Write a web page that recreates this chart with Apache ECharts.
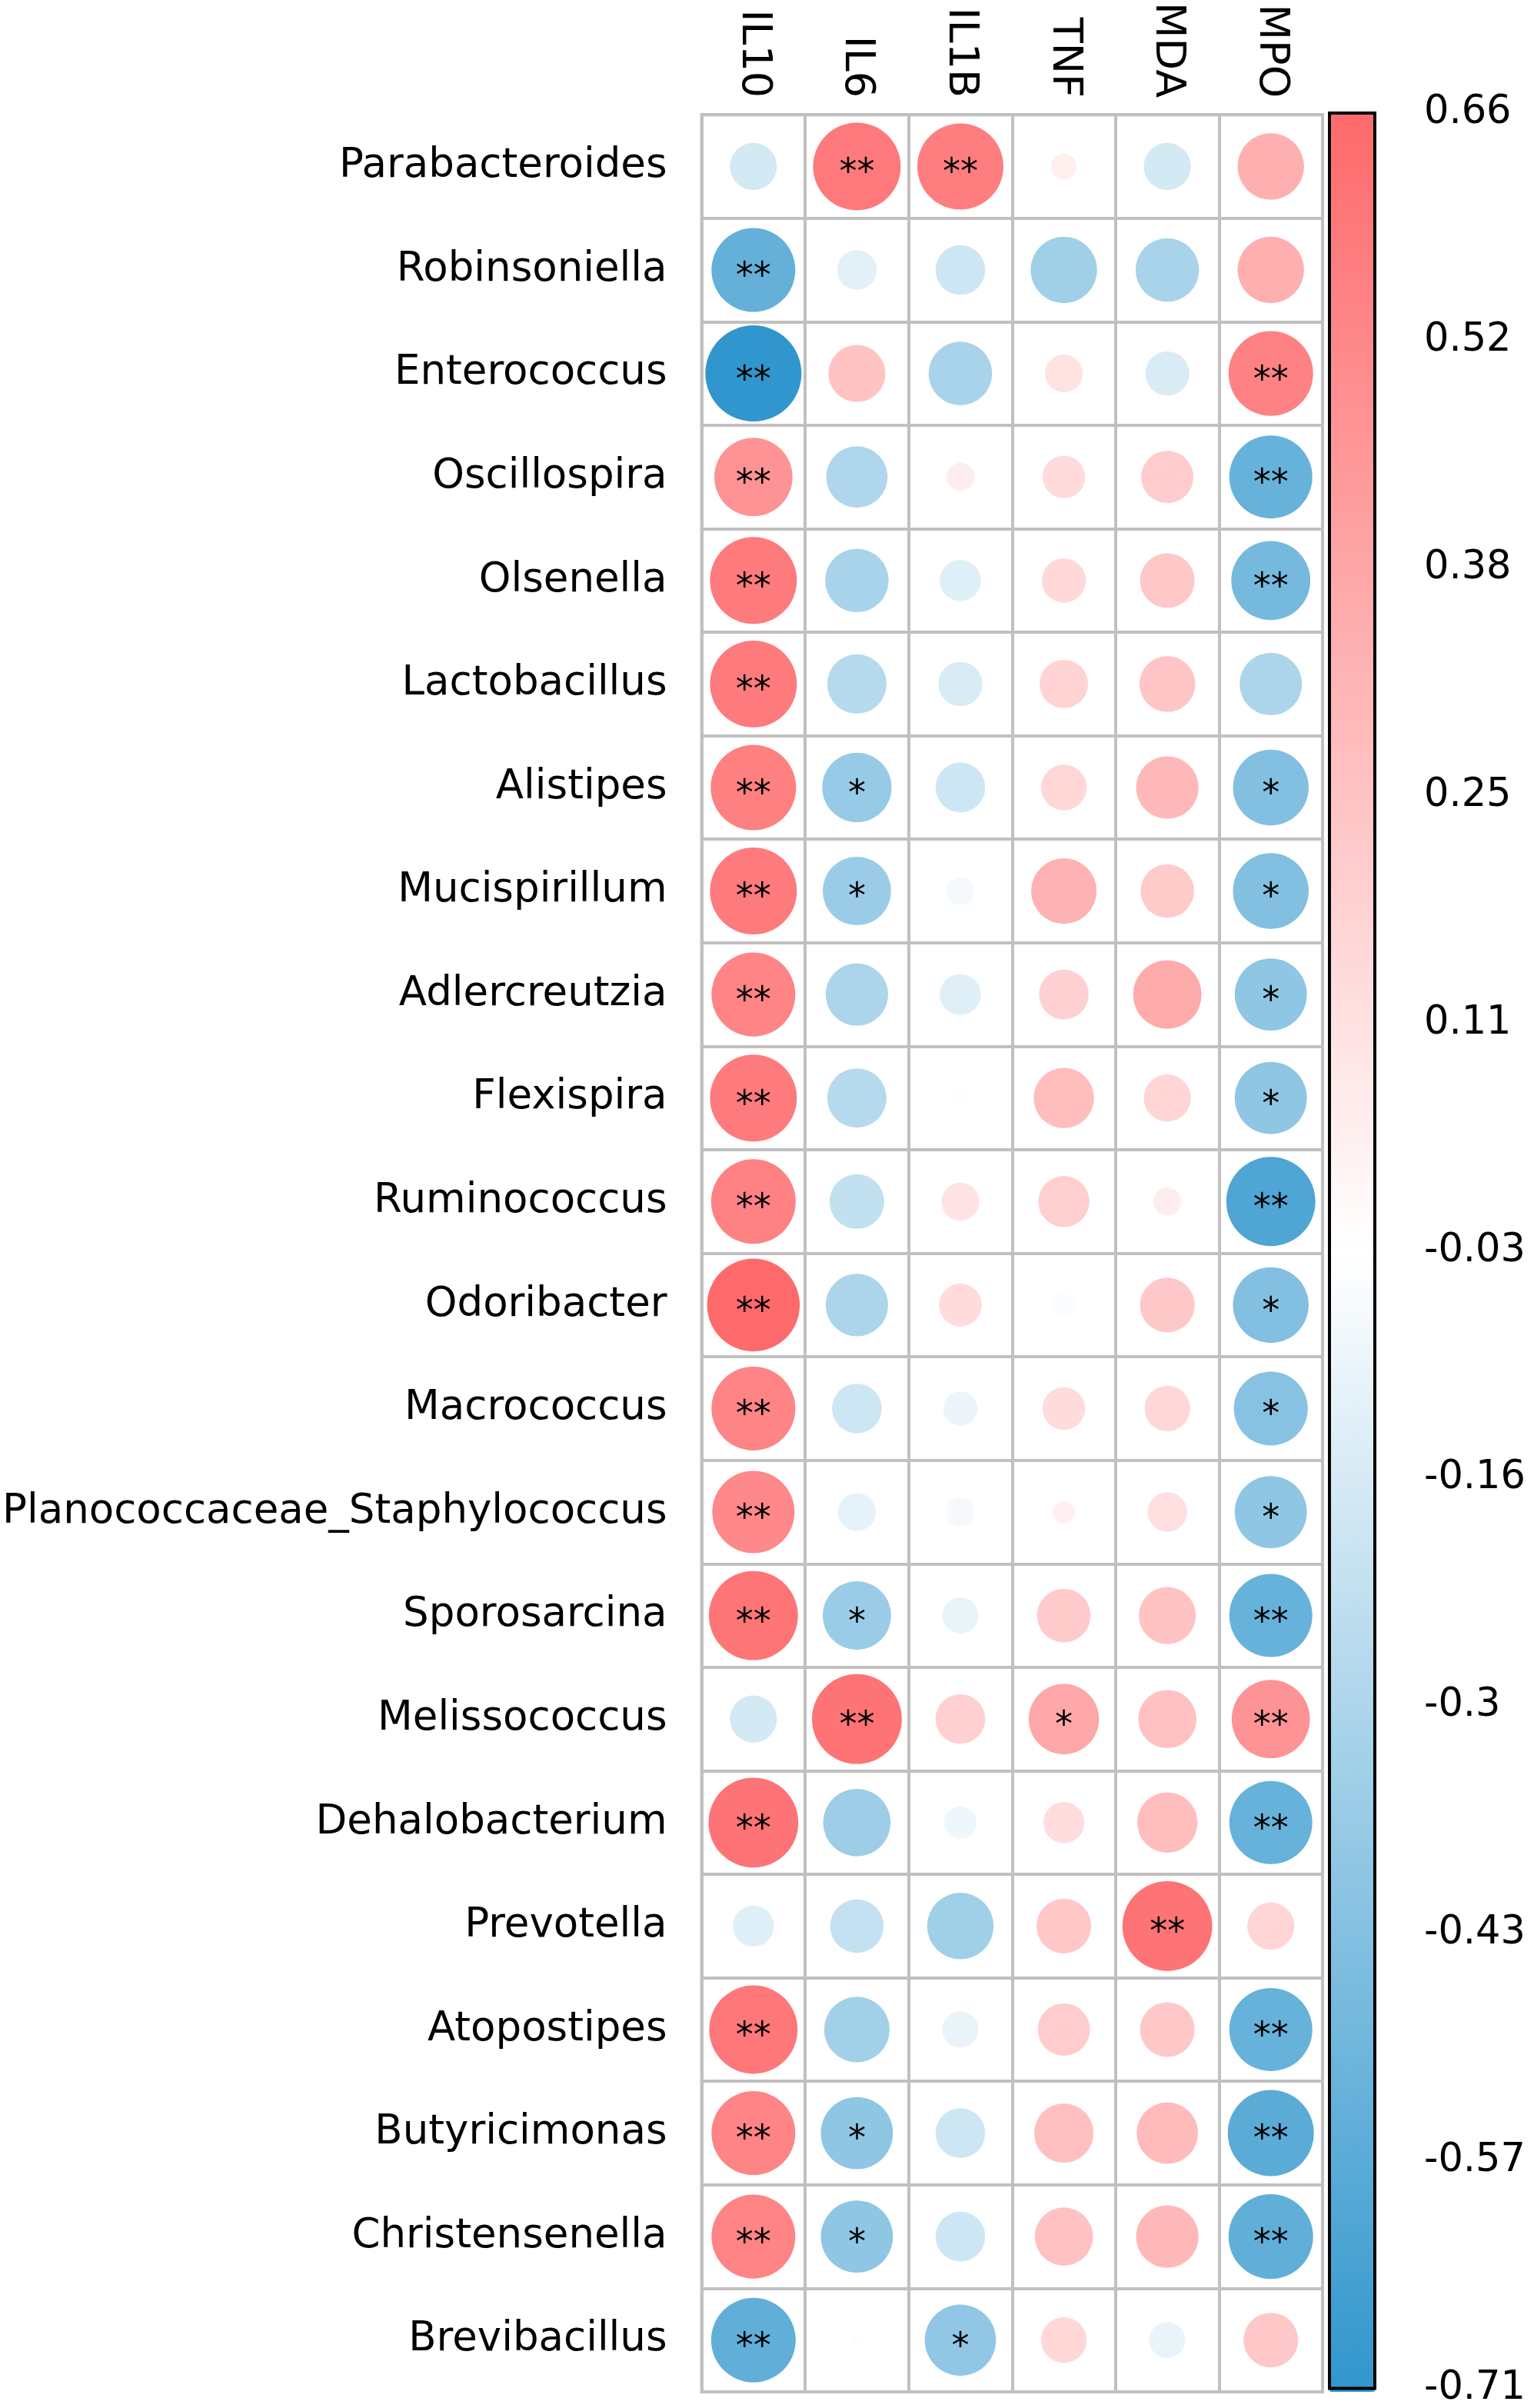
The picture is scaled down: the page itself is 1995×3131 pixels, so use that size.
<!DOCTYPE html>
<html>
<head>
<meta charset="utf-8">
<script src="https://cdn.jsdelivr.net/npm/echarts@6/dist/echarts.min.js"></script>
<style>
  html, body { margin: 0; padding: 0; background: #fff; }
  #chart { width: 1995px; height: 3131px; }
</style>
</head>
<body>
<div id="chart"></div>
<script>
// genera (rows) and markers (columns)
const genera = ['Parabacteroides', 'Robinsoniella', 'Enterococcus', 'Oscillospira', 'Olsenella',
  'Lactobacillus', 'Alistipes', 'Mucispirillum', 'Adlercreutzia', 'Flexispira', 'Ruminococcus',
  'Odoribacter', 'Macrococcus', 'Planococcaceae_Staphylococcus', 'Sporosarcina', 'Melissococcus',
  'Dehalobacterium', 'Prevotella', 'Atopostipes', 'Butyricimonas', 'Christensenella', 'Brevibacillus']
const markers = ['IL10', 'IL6', 'IL1B', 'TNF', 'MDA', 'MPO']

// correlation per marker, same order as genera
const il10 = [-0.17, -0.54, -0.71, 0.47, 0.58, 0.58, 0.56, 0.58, 0.54, 0.58, 0.55, 0.66, 0.54, 0.52, 0.61, -0.17, 0.62, -0.13, 0.60, 0.54, 0.54, -0.55]
const il6 = [0.59, -0.12, 0.25, -0.29, -0.31, -0.27, -0.37, -0.36, -0.30, -0.27, -0.23, -0.30, -0.19, -0.11, -0.36, 0.62, -0.35, -0.22, -0.33, -0.40, -0.40, -0.01]
const il1b = [0.57, -0.19, -0.31, 0.06, -0.13, -0.15, -0.19, -0.06, -0.13, -0.03, 0.11, 0.14, -0.09, -0.06, -0.10, 0.19, -0.08, -0.34, -0.10, -0.19, -0.19, -0.39]
const tnf = [0.05, -0.34, 0.11, 0.14, 0.15, 0.18, 0.16, 0.33, 0.19, 0.28, 0.20, -0.04, 0.14, 0.04, 0.22, 0.38, 0.13, 0.23, 0.21, 0.27, 0.26, 0.16]
const mda = [-0.17, -0.31, -0.15, 0.21, 0.23, 0.24, 0.30, 0.22, 0.36, 0.17, 0.06, 0.23, 0.16, 0.12, 0.25, 0.26, 0.28, 0.62, 0.23, 0.29, 0.30, -0.10]
const mpo = [0.34, 0.34, 0.55, -0.53, -0.48, -0.30, -0.44, -0.44, -0.40, -0.40, -0.61, -0.44, -0.42, -0.40, -0.53, 0.47, -0.53, 0.17, -0.53, -0.57, -0.55, 0.23]

// significance marks
const sigIl10 = ['', '**', '**', '**', '**', '**', '**', '**', '**', '**', '**', '**', '**', '**', '**', '', '**', '', '**', '**', '**', '**']
const sigIl6 = ['**', '', '', '', '', '', '*', '*', '', '', '', '', '', '', '*', '**', '', '', '', '*', '*', '']
const sigIl1b = ['**', '', '', '', '', '', '', '', '', '', '', '', '', '', '', '', '', '', '', '', '', '*']
const sigTnf = ['', '', '', '', '', '', '', '', '', '', '', '', '', '', '', '*', '', '', '', '', '', '']
const sigMda = ['', '', '', '', '', '', '', '', '', '', '', '', '', '', '', '', '', '**', '', '', '', '']
const sigMpo = ['', '', '**', '**', '**', '', '*', '*', '*', '*', '**', '*', '*', '*', '**', '**', '**', '', '**', '**', '**', '']

// colour bar tick labels, bottom to top
const barLabels = ['-0.71', '-0.57', '-0.43', '-0.3', '-0.16', '-0.03', '0.11', '0.25', '0.38', '0.52', '0.66']
const rMin = -0.71
const rMax = 0.66

const values = [il10, il6, il1b, tnf, mda, mpo]
const sigs = [sigIl10, sigIl6, sigIl1b, sigTnf, sigMda, sigMpo]

let cells = []
values.forEach(function (col, j) {
  col.forEach(function (v, i) {
    cells.push([j, i, v, sigs[j][i]])
  })
})

const font = 'DejaVu Sans'
const gridLine = { color: '#c0c0c0', width: 4 }

let myChart = echarts.init(document.getElementById('chart'))
let option = {
  backgroundColor: '#fff',
  animation: false,
  grid: [
    { left: 910, top: 147, width: 810, height: 2963, show: true, borderColor: '#c0c0c0', borderWidth: 4 },
    // colour bar frame + ticks
    { left: 1729, top: 147, width: 59, height: 2963, show: true, borderColor: '#000', borderWidth: 4,
      backgroundColor: 'transparent', z: 10 }
  ],
  xAxis: [
    {
      gridIndex: 0,
      type: 'category',
      data: markers,
      position: 'top',
      axisLine: { show: false },
      axisTick: { show: false },
      splitLine: { show: true, interval: 0, lineStyle: gridLine },
      axisLabel: { rotate: 90, margin: 22, fontSize: 54, fontFamily: font, color: '#000', interval: 0 }
    },
    { gridIndex: 1, type: 'value', show: false }
  ],
  yAxis: [
    {
      gridIndex: 0,
      type: 'category',
      data: genera,
      inverse: true,
      axisLine: { show: false },
      axisTick: { show: false },
      splitLine: { show: true, interval: 0, lineStyle: gridLine },
      axisLabel: { margin: 45, fontSize: 53, fontFamily: font, color: '#000', interval: 0 }
    },
    {
      gridIndex: 1,
      type: 'value',
      position: 'right',
      min: 0,
      max: barLabels.length - 1,
      interval: 1,
      axisLine: { show: false },
      splitLine: { show: false },
      axisTick: { show: true, length: 12, lineStyle: { color: '#000', width: 3 } },
      axisLabel: {
        margin: 64, fontSize: 51, fontFamily: font, color: '#000',
        formatter: function (v) { return barLabels[Math.round(v)] }
      }
    }
  ],
  visualMap: {
    type: 'continuous',
    min: rMin,
    max: rMax,
    dimension: 2,
    seriesIndex: 0,
    calculable: false,
    hoverLink: false,
    left: 1729,
    top: 147,
    itemWidth: 59,
    itemHeight: 2963,
    padding: 0,
    itemGap: 0,
    text: null,
    showLabel: false,
    inRange: { color: ['#3196cd', '#ffffff', '#fe6a6c'] }
  },
  series: [{
    type: 'scatter',
    xAxisIndex: 0,
    yAxisIndex: 0,
    data: cells,
    symbol: 'circle',
    symbolSize: function (val) {
      return 125 * Math.sqrt(Math.abs(val[2]) / 0.71)
    },
    itemStyle: { opacity: 1 },
    label: {
      show: true,
      position: 'inside',
      formatter: function (p) { return p.data[3] },
      color: '#000',
      fontSize: 46,
      fontFamily: font,
      offset: [0, 10]
    },
    emphasis: { disabled: true }
  }]
}
myChart.setOption(option)
window.addEventListener('resize', function () {
  myChart.resize()
})
</script>
</body>
</html>
